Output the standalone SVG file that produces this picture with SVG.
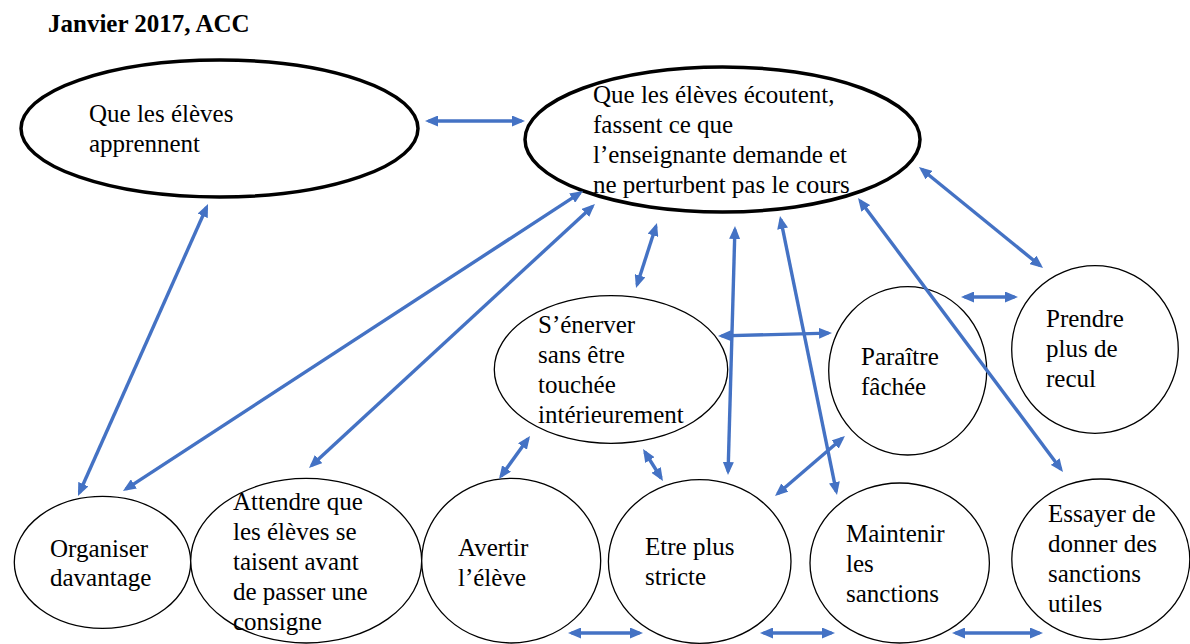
<svg xmlns="http://www.w3.org/2000/svg" width="1190" height="644" viewBox="0 0 1190 644">
<style>
text{font-family:"Liberation Serif","Times New Roman",serif;font-size:25px;fill:#000}
.title{font-weight:bold}
.main{fill:#fff;stroke:#000;stroke-width:3.5}
.node{fill:#fff;stroke:#000;stroke-width:1.3}
.c{stroke:#4472C4;stroke-width:3.4;fill:none;marker-start:url(#ah);marker-end:url(#ah)}
</style>
<defs>
<marker id="ah" viewBox="0 0 13 11" refX="9.5" refY="5.5" markerWidth="13" markerHeight="11" markerUnits="userSpaceOnUse" orient="auto-start-reverse">
<path d="M0,0 L13,5.5 L0,11 z" fill="#4472C4"/>
</marker>
</defs>
<rect width="1190" height="644" fill="#fff"/>
<text class="title" x="48" y="32">Janvier 2017, ACC</text>

<g id="apprennent">
<ellipse class="main" cx="219.5" cy="128.5" rx="198.5" ry="68.5"/>
<text x="89" y="122">Que les élèves</text>
<text x="89" y="152">apprennent</text>
</g>
<g id="ecoutent">
<ellipse class="main" cx="722.5" cy="139.5" rx="197.5" ry="72.5"/>
<text x="593" y="103">Que les élèves écoutent,</text>
<text x="593" y="133">fassent ce que</text>
<text x="593" y="163">l’enseignante demande et</text>
<text x="593" y="193">ne perturbent pas le cours</text>
</g>
<g id="enerver">
<ellipse class="node" cx="611" cy="369.5" rx="116.7" ry="73.8"/>
<text x="538" y="333">S’énerver</text>
<text x="538" y="363">sans être</text>
<text x="538" y="393">touchée</text>
<text x="538" y="423">intérieurement</text>
</g>
<g id="fachee">
<ellipse class="node" cx="907.7" cy="370.8" rx="79" ry="84.2"/>
<text x="861" y="365">Paraître</text>
<text x="861" y="395">fâchée</text>
</g>
<g id="recul">
<ellipse class="node" cx="1095" cy="349.5" rx="83.3" ry="83.8"/>
<text x="1046" y="327">Prendre</text>
<text x="1046" y="357">plus de</text>
<text x="1046" y="387">recul</text>
</g>
<g id="organiser">
<ellipse class="node" cx="102.5" cy="562.3" rx="88.2" ry="66"/>
<text x="50" y="557">Organiser</text>
<text x="50" y="586">davantage</text>
</g>
<g id="attendre">
<ellipse class="node" cx="306.2" cy="560.7" rx="115.5" ry="82.3"/>
<text x="233" y="510">Attendre que</text>
<text x="233" y="540">les élèves se</text>
<text x="233" y="570">taisent avant</text>
<text x="233" y="600">de passer une</text>
<text x="233" y="630">consigne</text>
</g>
<g id="avertir">
<ellipse class="node" cx="511.2" cy="560.7" rx="89.5" ry="82.3"/>
<text x="458" y="556">Avertir</text>
<text x="458" y="586">l’élève</text>
</g>
<g id="stricte">
<ellipse class="node" cx="699.7" cy="561.5" rx="91.3" ry="81.8"/>
<text x="645" y="555">Etre plus</text>
<text x="645" y="585">stricte</text>
</g>
<g id="maintenir">
<ellipse class="node" cx="899.7" cy="563" rx="89.7" ry="80"/>
<text x="846" y="542">Maintenir</text>
<text x="846" y="572">les</text>
<text x="846" y="602">sanctions</text>
</g>
<g id="essayer">
<ellipse class="node" cx="1100.8" cy="559.3" rx="89" ry="80.3"/>
<text x="1048" y="522">Essayer de</text>
<text x="1048" y="552">donner des</text>
<text x="1048" y="582">sanctions</text>
<text x="1048" y="612">utiles</text>
</g>

<g id="connectors">
<line class="c" x1="428.5" y1="121" x2="521.5" y2="121"/>
<line class="c" x1="206.6" y1="207.2" x2="79.4" y2="492.8"/>
<line class="c" x1="580.1" y1="192.9" x2="125.9" y2="489.1"/>
<line class="c" x1="592.4" y1="206.4" x2="311.6" y2="465.6"/>
<line class="c" x1="655.9" y1="226.3" x2="637.1" y2="284.7"/>
<line class="c" x1="734.9" y1="229.5" x2="728.1" y2="471.5"/>
<line class="c" x1="780.7" y1="219.4" x2="836.3" y2="491.6"/>
<line class="c" x1="860.1" y1="200.8" x2="1060.9" y2="469.2"/>
<line class="c" x1="921.7" y1="169.2" x2="1040.3" y2="265.8"/>
<line class="c" x1="964.5" y1="297" x2="1014.5" y2="297"/>
<line class="c" x1="721.5" y1="335.9" x2="828.5" y2="333.1"/>
<line class="c" x1="842.3" y1="438.3" x2="777.7" y2="493.7"/>
<line class="c" x1="528" y1="438.8" x2="501" y2="476.2"/>
<line class="c" x1="644.9" y1="452" x2="661.1" y2="478"/>
<line class="c" x1="571.5" y1="633" x2="639.5" y2="633"/>
<line class="c" x1="763.5" y1="633" x2="831.5" y2="633"/>
<line class="c" x1="955.5" y1="633" x2="1039.5" y2="633"/>
</g>
</svg>
